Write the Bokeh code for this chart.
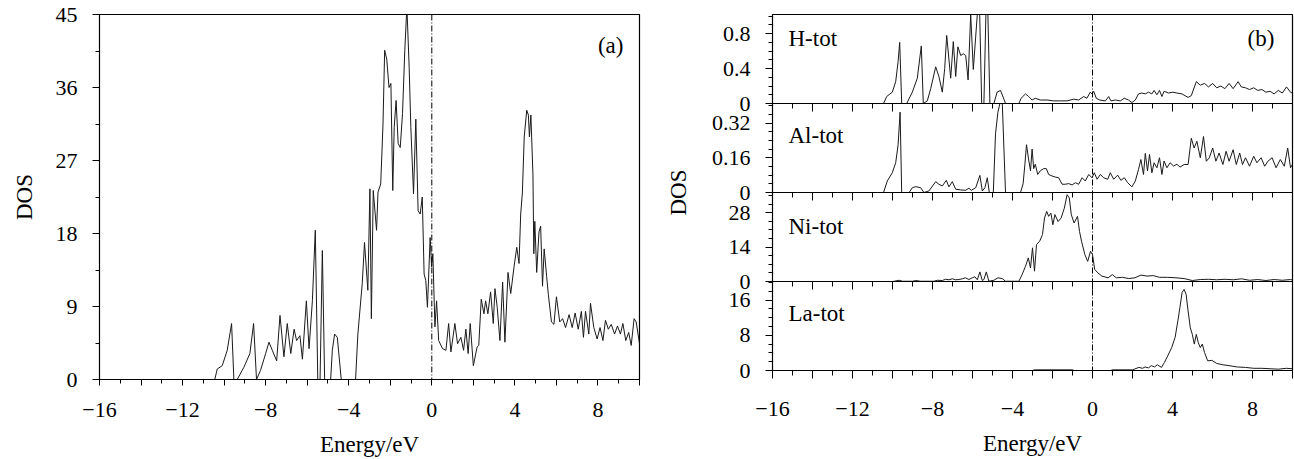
import math
from bokeh.plotting import figure
from bokeh.layouts import row, column
from bokeh.models import Span, Label, FixedTicker, Range1d
from bokeh.embed import file_html
from bokeh.resources import INLINE

FONT = "Liberation Serif"

# ---------------- data ----------------
tot_x = [-16, -10.45, -10.33, -10.09, -9.85, -9.64, -9.53, -9.37, -9.05, -8.76, -8.58, -8.44, -8.25, -8.0, -7.84,
         -7.68, -7.47, -7.31, -7.12, -6.96, -6.79, -6.63, -6.51, -6.35, -6.23, -6.04, -5.91, -5.75, -5.61, -5.49,
         -5.38, -5.27, -5.16, -4.87, -4.79, -4.68, -4.55, -4.36, -3.67, -3.56, -3.35, -3.24, -3.08, -2.98, -2.91,
         -2.82, -2.66, -2.59, -2.46, -2.35, -2.27, -2.17, -2.06, -1.97, -1.88, -1.81, -1.72, -1.62, -1.52, -1.41,
         -1.30, -1.20, -1.09, -1.01, -0.88, -0.77, -0.66, -0.56, -0.46, -0.37, -0.29, -0.21, -0.08, -0.01, 0.05,
         0.15, 0.23, 0.33, 0.52, 0.68, 0.81, 0.92, 1.11, 1.24, 1.40, 1.53, 1.64, 1.75, 1.85, 2.0, 2.18, 2.26, 2.38,
         2.51, 2.59, 2.70, 2.83, 2.96, 3.04, 3.15, 3.28, 3.41, 3.52, 3.67, 3.80, 3.96, 4.09, 4.20, 4.28, 4.36, 4.45,
         4.57, 4.65, 4.70, 4.77, 4.87, 4.91, 4.96, 5.05, 5.16, 5.24, 5.33, 5.41, 5.53, 5.61, 5.76, 5.88, 6.0, 6.16,
         6.30, 6.44, 6.61, 6.76, 6.90, 7.05, 7.20, 7.30, 7.40, 7.56, 7.64, 7.80, 7.96, 8.10, 8.24, 8.36, 8.50, 8.64,
         8.80, 8.94, 9.08, 9.20, 9.34, 9.48, 9.60, 9.74, 9.84, 10.0]
tot_y = [0, 0, 1.3, 1.7, 3.6, 6.9, 0, 0, 1.5, 3.2, 6.9, 0, 1.1, 3.2, 4.6,
         3.6, 2.3, 7.9, 2.8, 6.9, 3.2, 6.2, 4.8, 5.4, 2.5, 9.7, 3.8, 9.7, 18.4, 0,
         0, 15.9, 0, 0, 3.6, 5.6, 5.2, 0, 0, 5.6, 11.8, 16.9, 11.0, 23.5, 7.5,
         23.3, 18.4, 23.1, 24.1, 31.5, 40.6, 39.5, 36.0, 36.5, 23.3, 31.1, 34.4, 29.1, 28.6, 32.8,
         40.6, 46.0, 38.5, 31.1, 22.9, 32.1, 20.8, 20.4, 22.5, 13.0, 12.2, 8.9, 17.5, 13.9, 15.5,
         6.5, 9.7, 4.8, 3.8, 3.6, 6.9, 3.4, 6.9, 4.4, 5.2, 3.6, 6.2, 3.2, 6.9, 1.7, 4.0, 4.2, 9.9,
         8.1, 9.7, 8.1, 10.8, 6.9, 11.2, 8.9, 4.8, 12.0, 4.6, 13.2, 10.6, 13.9, 16.3, 14.3, 20.4, 23.0, 29.9,
         33.2, 32.6, 29.9, 32.6, 25.2, 15.5, 19.5, 13.2, 18.2, 18.9, 11.5, 16.1, 12.7, 10.5, 7.1, 6.8, 10.2, 7.1,
         7.5, 6.4, 8.0, 6.4, 8.2, 6.2, 8.4, 5.2, 8.4, 5.6, 9.4, 6.4, 5.0, 6.4, 4.8, 7.3, 6.2, 6.8,
         5.6, 6.6, 5.6, 6.9, 4.8, 5.8, 4.2, 7.5, 7.1, 4.4]

h_x = [-16, -10.45, -10.29, -10.01, -9.84, -9.72, -9.64, -9.54, -9.29, -9.01, -8.76, -8.56, -8.46, -8.26, -8.09,
       -7.84, -7.68, -7.51, -7.39, -7.29, -7.09, -6.96, -6.84, -6.73, -6.59, -6.46, -6.34, -6.22, -6.09, -5.96,
       -5.76, -5.64, -5.54, -5.43, -5.33, -5.23, -5.13, -4.93, -4.77, -4.60, -4.43, -4.35, -3.68, -3.57, -3.35,
       -3.19, -3.02, -2.86, -2.61, -2.27, -1.94, -1.61, -1.27, -0.94, -0.69, -0.44, -0.28, -0.11, -0.03, 0.06,
       0.19, 0.36, 0.64, 0.81, 0.92, 1.14, 1.39, 1.59, 1.80, 1.97, 2.14, 2.30, 2.47, 2.64, 2.80, 2.97, 3.08,
       3.22, 3.35, 3.47, 3.58, 3.80, 4.02, 4.22, 4.47, 4.78, 4.94, 5.19, 5.39, 5.60, 5.80, 6.01, 6.21, 6.42,
       6.62, 6.83, 7.03, 7.28, 7.44, 7.65, 7.85, 8.06, 8.26, 8.47, 8.67, 8.88, 9.08, 9.29, 9.49, 9.70, 9.90, 10.0]
h_y = [0, 0, 0.08, 0.13, 0.25, 0.48, 0.70, 0.0, 0.0, 0.13, 0.29, 0.66, 0.0, 0.03, 0.17,
       0.42, 0.31, 0.13, 0.40, 0.78, 0.29, 0.71, 0.31, 0.65, 0.55, 0.57, 0.55, 0.27, 1.02, 0.39,
       1.02, 1.02, 0.0, 0.0, 1.02, 1.02, 0.0, 0.0, 0.13, 0.15, 0.05, 0.0, 0.0, 0.06, 0.11,
       0.08, 0.04, 0.06, 0.04, 0.04, 0.03, 0.03, 0.03, 0.05, 0.04, 0.08, 0.06, 0.13, 0.11, 0.14,
       0.06, 0.04, 0.03, 0.08, 0.03, 0.04, 0.03, 0.06, 0.04, 0.01, 0.04, 0.11, 0.12, 0.11, 0.13, 0.11, 0.15,
       0.10, 0.15, 0.08, 0.14, 0.12, 0.13, 0.12, 0.11, 0.07, 0.09, 0.25, 0.21, 0.23, 0.19, 0.23, 0.18, 0.20,
       0.17, 0.23, 0.17, 0.25, 0.19, 0.18, 0.16, 0.18, 0.15, 0.16, 0.13, 0.14, 0.11, 0.15, 0.12, 0.19, 0.13, 0.12]

al_x = [-16, -10.45, -10.26, -10.01, -9.84, -9.72, -9.62, -9.54, -9.17, -9.01, -8.84, -8.59, -8.43, -8.18, -7.84,
        -7.68, -7.51, -7.31, -7.18, -7.01, -6.84, -6.59, -6.34, -6.18, -6.06, -5.84, -5.63, -5.51, -5.38, -5.26,
        -5.16, -4.96, -4.85, -4.73, -4.63, -4.51, -4.35, -3.60, -3.47, -3.38, -3.30, -3.19, -3.10, -3.02, -2.94,
        -2.86, -2.74, -2.61, -2.44, -2.31, -2.19, -2.02, -1.86, -1.69, -1.52, -1.36, -1.19, -1.02, -0.86, -0.69,
        -0.52, -0.36, -0.19, -0.02, 0.09, 0.23, 0.39, 0.56, 0.76, 0.89, 1.06, 1.26, 1.42, 1.59, 1.76, 1.97, 2.14,
        2.30, 2.42, 2.55, 2.64, 2.75, 2.85, 2.97, 3.08, 3.22, 3.35, 3.47, 3.58, 3.72, 3.88, 4.05, 4.22, 4.38,
        4.58, 4.78, 4.94, 5.08, 5.22, 5.39, 5.55, 5.69, 5.84, 6.01, 6.17, 6.33, 6.52, 6.68, 6.83, 7.03, 7.19,
        7.36, 7.50, 7.65, 7.85, 8.06, 8.22, 8.43, 8.61, 8.77, 8.98, 9.18, 9.39, 9.59, 9.76, 9.90, 10.0]
al_y = [0, 0, 0.053, 0.091, 0.137, 0.22, 0.37, 0, 0, 0.022, 0.027, 0.022, 0, 0.007, 0.05,
        0.038, 0.03, 0.056, 0.026, 0.05, 0.015, 0.012, 0.01, 0.02, 0.01, 0.022, 0.079, 0.007, 0.022, 0.068,
        0, 0, 0.27, 0.37, 0.41, 0.41, 0, 0, 0.04, 0.13, 0.22, 0.15, 0.10, 0.20, 0.11,
        0.13, 0.083, 0.10, 0.11, 0.11, 0.083, 0.076, 0.071, 0.068, 0.038, 0.038, 0.041, 0.035, 0.045, 0.038,
        0.068, 0.053, 0.083, 0.068, 0.091, 0.061, 0.083, 0.068, 0.061, 0.091, 0.061, 0.08, 0.056, 0.068, 0.045, 0.026, 0.053,
        0.106, 0.152, 0.083, 0.18, 0.099, 0.175, 0.091, 0.137, 0.114, 0.16, 0.083, 0.145, 0.114, 0.137, 0.122, 0.13, 0.117,
        0.129, 0.129, 0.25, 0.205, 0.236, 0.16, 0.258, 0.144, 0.16, 0.205, 0.144, 0.182, 0.129, 0.19, 0.144, 0.197, 0.129,
        0.182, 0.129, 0.16, 0.121, 0.167, 0.137, 0.16, 0.121, 0.144, 0.16, 0.114, 0.152, 0.121, 0.205, 0.114, 0.13]

ni_x = [-16, -10.0, -9.92, -9.67, -9.5, -9.0, -8.84, -8.59, -7.93, -7.76, -7.51, -7.35, -7.18, -7.01, -6.85,
        -6.68, -6.51, -6.35, -6.18, -6.01, -5.88, -5.76, -5.63, -5.51, -5.43, -5.31, -5.18, -4.93, -4.73, -4.51,
        -4.35, -3.68, -3.52, -3.35, -3.21, -3.10, -3.0, -2.9, -2.8, -2.64, -2.5, -2.40, -2.29, -2.19, -2.08,
        -1.98, -1.88, -1.72, -1.57, -1.41, -1.27, -1.16, -1.06, -0.92, -0.75, -0.65, -0.55, -0.38, -0.24, -0.10,
        0.0, 0.11, 0.27, 0.47, 0.78, 0.99, 1.19, 1.5, 1.81, 2.12, 2.42, 2.73, 3.04, 3.34, 3.76, 4.17, 4.58,
        4.99, 5.39, 5.8, 6.21, 6.63, 7.04, 7.45, 7.85, 8.26, 8.67, 9.08, 9.49, 9.9, 10.0]
ni_y = [0, 0, 0.1, 0.5, 0.1, 0.1, 0.4, 0.1, 0.1, 0.5, 0.4, 0.9, 0.7, 1.1, 0.7,
        0.8, 1.1, 1.5, 0.8, 1.5, 1.9, 0.7, 3.9, 0.4, 0.8, 3.9, 0.1, 0.5, 1.5, 1.2,
        0.1, 0.1, 2.8, 6.2, 9.6, 5.5, 13.7, 4.2, 15.0, 16.4, 19.1, 25.8, 28.5, 26.5, 27.8,
        23.1, 27.2, 24.4, 25.8, 29.8, 35.3, 34.0, 27.2, 23.8, 26.5, 20.4, 16.4, 10.9, 8.2, 12.3,
        10.9, 4.9, 3.5, 2.2, 1.5, 2.8, 1.5, 1.7, 1.2, 1.5, 2.6, 2.2, 2.4, 1.7, 1.7, 1.5, 1.2,
        0.4, 0.8, 0.9, 0.7, 0.9, 0.7, 1.1, 0.5, 0.8, 0.4, 0.8, 0.5, 0.8, 0.6]

la_x = [-16, -3.0, -2.9, -1.0, -0.9, 0.9, 1.0, 2.0, 2.32, 2.5, 2.63, 2.8, 2.94, 3.1, 3.24, 3.45, 3.59, 3.76, 3.96,
        4.13, 4.27, 4.37, 4.48, 4.58, 4.68, 4.78, 4.89, 4.99, 5.09, 5.19, 5.29, 5.39, 5.49, 5.6, 5.76, 5.97,
        6.21, 6.52, 6.83, 7.24, 7.65, 8.06, 8.47, 8.88, 9.29, 9.69, 10.0]
la_y = [0, 0, 0.15, 0.15, 0, 0, 0.15, 0.15, 0.7, 0.5, 0.8, 0.6, 1.1, 0.8, 1.3, 0.7, 1.8, 3.3, 5.2,
        7.5, 11.3, 14.3, 17.7, 18.4, 17.3, 13.5, 9.7, 8.2, 6.0, 8.2, 6.3, 5.2, 6.0, 4.1, 2.2, 2.3,
        1.6, 1.3, 1.1, 0.8, 0.7, 0.5, 0.5, 0.4, 0.3, 0.5, 0.4]

x_major = list(range(-16, 11, 2))
x_minor = list(range(-15, 10, 2))
x_labels = {v: (("\u2212%d" % -v) if v < 0 else "%d" % v) if v % 4 == 0 else "" for v in x_major}

a_ticks = [0, 9, 18, 27, 36, 45]
a_minor = [4.5, 13.5, 22.5, 31.5, 40.5]

sub_keys = ["h", "al", "ni", "la"]
sub_names = ["H-tot", "Al-tot", "Ni-tot", "La-tot"]
sub_top = [1.02, 0.41, 36.2, 20.2]
sub_ticks = [[0, 0.4, 0.8], [0, 0.16, 0.32], [0, 14, 28], [0, 8, 16]]
sub_tick_text = [["0", "0.4", "0.8"], ["0", "0.16", "0.32"], ["0", "14", "28"], ["0", "8", "16"]]
sub_minor = [[0.1, 0.2, 0.3, 0.5, 0.6, 0.7, 0.9, 1.0],
             [0.04, 0.08, 0.12, 0.2, 0.24, 0.28, 0.36, 0.4],
             [3.5, 7, 10.5, 17.5, 21, 24.5, 31.5, 35],
             [2, 4, 6, 10, 12, 14, 18, 20]]
sub_label_y = [0.75, 0.263, 22.5, 13.0]

# panel (b): four stacked sub-panels share one frame; slot 0 is the bottom one
N_SLOT = 4
sub_slot = [3, 2, 1, 0]

LINE = "#1a1a1a"
TICK_FS = "22px"
LAB_FS = "23px"


def style_common(p):
    p.outline_line_color = "black"
    p.outline_line_width = 1.2
    p.xgrid.visible = False
    p.ygrid.visible = False
    p.background_fill_color = "white"
    p.border_fill_color = "white"


def style_axis(ax):
    ax.axis_line_color = "black"
    ax.major_tick_line_color = "black"
    ax.minor_tick_line_color = "black"
    ax.major_label_text_font = FONT
    ax.major_label_text_font_size = TICK_FS
    ax.major_label_text_color = "black"
    ax.axis_label_text_font = FONT
    ax.axis_label_text_font_size = LAB_FS
    ax.axis_label_text_font_style = "normal"
    ax.axis_label_text_color = "black"


# ---------------- panel (a) ----------------
pa = figure(width=660, height=459, output_backend="svg", toolbar_location=None,
            x_range=Range1d(-16, 10), y_range=Range1d(0, 45),
            min_border_left=99, min_border_right=21, min_border_top=14, min_border_bottom=80)
style_common(pa)
pa.line(tot_x, tot_y, line_color=LINE, line_width=1)
pa.add_layout(Span(location=0, dimension="height", line_color="black", line_width=1, line_dash="6 2 1 2"))

xa = pa.xaxis[0]
style_axis(xa)
xa.ticker = FixedTicker(ticks=x_major, minor_ticks=x_minor)
xa.major_label_overrides = x_labels
xa.major_tick_out = 6
xa.major_tick_in = 0
xa.minor_tick_out = 4
xa.minor_tick_in = 0
xa.major_label_standoff = 17
xa.axis_label = "Energy/eV"
xa.axis_label_standoff = 12

ya = pa.yaxis[0]
style_axis(ya)
ya.ticker = FixedTicker(ticks=a_ticks, minor_ticks=a_minor)
ya.major_tick_out = 7
ya.major_tick_in = 0
ya.minor_tick_out = 4
ya.minor_tick_in = 0
ya.major_label_standoff = 15
ya.axis_label = "DOS"
ya.axis_label_standoff = 16

pa.add_layout(Label(x=8.0, y=41.2, text="(a)", text_font=FONT, text_font_size=LAB_FS,
                    text_baseline="middle", text_align="left", text_color="black"))

# ---------------- panel (b) ----------------
pb = figure(width=634, height=459, output_backend="svg", toolbar_location=None,
            x_range=Range1d(-16, 10), y_range=Range1d(0, N_SLOT),
            min_border_left=112, min_border_right=2, min_border_top=14, min_border_bottom=89)
style_common(pb)

# each sub-panel gets its own y range, placed so that [0, top] fills its slot
pb.extra_y_ranges = {key: Range1d(-sub_slot[i] * sub_top[i], (N_SLOT - sub_slot[i]) * sub_top[i])
                     for i, key in enumerate(sub_keys)}

series_x = [h_x, al_x, ni_x, la_x]
series_y = [h_y, al_y, ni_y, la_y]
for i, key in enumerate(sub_keys):
    pb.line(series_x[i], series_y[i], line_color=LINE, line_width=1, y_range_name=key)
    pb.add_layout(Label(x=-15.2, y=sub_label_y[i], y_range_name=key, text=sub_names[i], text_font=FONT,
                        text_font_size=LAB_FS, text_baseline="middle", text_align="left", text_color="black"))

pb.add_layout(Label(x=7.75, y=0.74, y_range_name="h", text="(b)", text_font=FONT, text_font_size=LAB_FS,
                    text_baseline="middle", text_align="left", text_color="black"))
pb.add_layout(Span(location=0, dimension="height", line_color="black", line_width=1, line_dash="6 2 1 2"))

# sub-panel separators with their downward x ticks
bounds = [1, 2, 3]
for b in bounds:
    pb.add_layout(Span(location=b, dimension="width", line_color="black", line_width=1.2))
pb.ray(x=[v for b in bounds for v in x_major], y=[b for b in bounds for v in x_major],
       length=8, length_units="screen", angle=-math.pi / 2, line_color="black", line_width=1)
pb.ray(x=[v for b in bounds for v in x_minor], y=[b for b in bounds for v in x_minor],
       length=5, length_units="screen", angle=-math.pi / 2, line_color="black", line_width=1)

# left axis: the tick values of every sub-panel, mapped into its slot
yb_ticks, yb_minor, yb_text = [], [], {}
for i in range(4):
    for v, t in zip(sub_ticks[i], sub_tick_text[i]):
        pos = sub_slot[i] + v / sub_top[i]
        yb_ticks.append(pos)
        yb_text[pos] = t
    for m in sub_minor[i]:
        yb_minor.append(sub_slot[i] + m / sub_top[i])

yb = pb.yaxis[0]
style_axis(yb)
yb.ticker = FixedTicker(ticks=yb_ticks, minor_ticks=yb_minor)
yb.major_label_overrides = yb_text
yb.major_tick_out = 7
yb.major_tick_in = 0
yb.minor_tick_out = 4
yb.minor_tick_in = 0
yb.major_label_standoff = 15
yb.axis_label = "DOS"
yb.axis_label_standoff = 18

xb = pb.xaxis[0]
style_axis(xb)
xb.ticker = FixedTicker(ticks=x_major, minor_ticks=x_minor)
xb.major_label_overrides = x_labels
xb.major_tick_out = 8
xb.major_tick_in = 0
xb.minor_tick_out = 5
xb.minor_tick_in = 0
xb.major_label_standoff = 23
xb.axis_label = "Energy/eV"
xb.axis_label_standoff = 12

# wrap each panel on its own so their frames are not aligned to each other
layout = row(column(pa), column(pb), spacing=0)
open("out.html", "w").write(file_html(layout, INLINE))
